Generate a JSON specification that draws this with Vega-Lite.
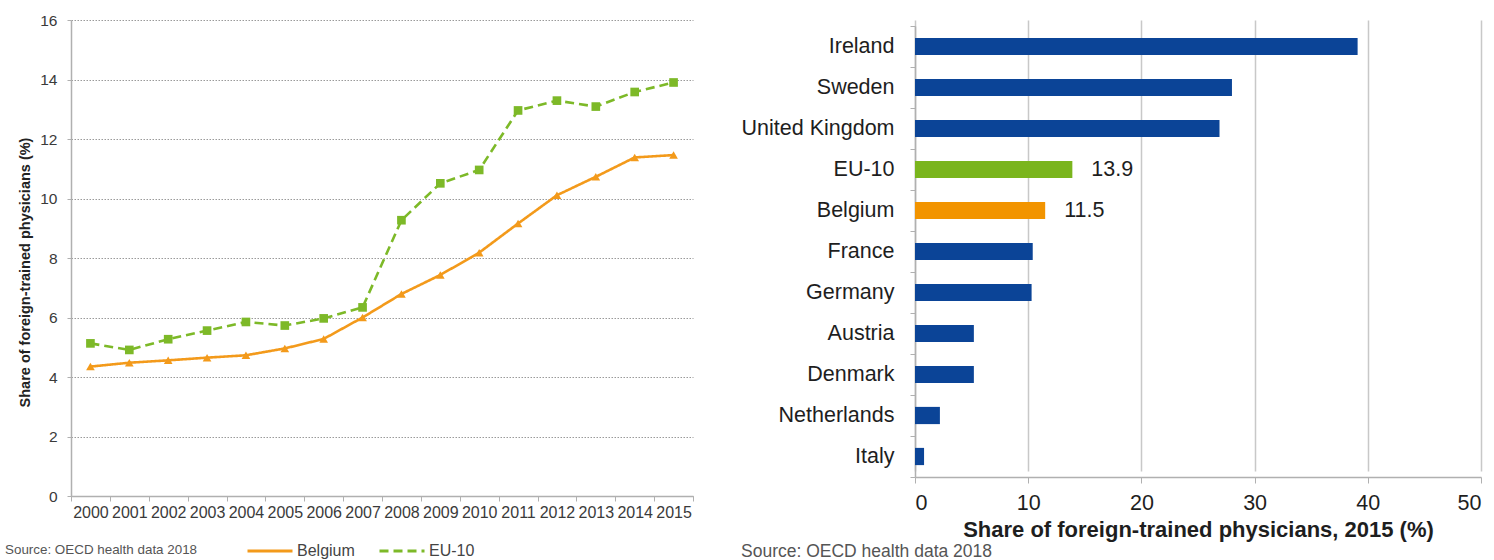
{
  "$schema": "https://vega.github.io/schema/vega-lite/v6.json",
  "background": "white",
  "padding": {"left": 5, "top": 9, "right": 2, "bottom": 0},
  "bounds": "flush",
  "spacing": 222,
  "config": {
    "view": {"stroke": null},
    "font": "Liberation Sans"
  },
  "datasets": {
    "trend": [
      {"year": "2000", "series": "Belgium", "share": 4.35},
      {"year": "2001", "series": "Belgium", "share": 4.48},
      {"year": "2002", "series": "Belgium", "share": 4.56},
      {"year": "2003", "series": "Belgium", "share": 4.65},
      {"year": "2004", "series": "Belgium", "share": 4.73},
      {"year": "2005", "series": "Belgium", "share": 4.96},
      {"year": "2006", "series": "Belgium", "share": 5.28},
      {"year": "2007", "series": "Belgium", "share": 6.0},
      {"year": "2008", "series": "Belgium", "share": 6.79},
      {"year": "2009", "series": "Belgium", "share": 7.43},
      {"year": "2010", "series": "Belgium", "share": 8.18},
      {"year": "2011", "series": "Belgium", "share": 9.16},
      {"year": "2012", "series": "Belgium", "share": 10.11},
      {"year": "2013", "series": "Belgium", "share": 10.73},
      {"year": "2014", "series": "Belgium", "share": 11.38},
      {"year": "2015", "series": "Belgium", "share": 11.46},
      {"year": "2000", "series": "EU-10", "share": 5.13},
      {"year": "2001", "series": "EU-10", "share": 4.91},
      {"year": "2002", "series": "EU-10", "share": 5.27},
      {"year": "2003", "series": "EU-10", "share": 5.56},
      {"year": "2004", "series": "EU-10", "share": 5.85},
      {"year": "2005", "series": "EU-10", "share": 5.73},
      {"year": "2006", "series": "EU-10", "share": 5.97},
      {"year": "2007", "series": "EU-10", "share": 6.34},
      {"year": "2008", "series": "EU-10", "share": 9.27},
      {"year": "2009", "series": "EU-10", "share": 10.51},
      {"year": "2010", "series": "EU-10", "share": 10.96},
      {"year": "2011", "series": "EU-10", "share": 12.96},
      {"year": "2012", "series": "EU-10", "share": 13.29},
      {"year": "2013", "series": "EU-10", "share": 13.09},
      {"year": "2014", "series": "EU-10", "share": 13.58},
      {"year": "2015", "series": "EU-10", "share": 13.9}
    ],
    "share2015": [
      {"country": "Ireland", "share": 39.1},
      {"country": "Sweden", "share": 28.0},
      {"country": "United Kingdom", "share": 26.9},
      {"country": "EU-10", "share": 13.9},
      {"country": "Belgium", "share": 11.5},
      {"country": "France", "share": 10.4},
      {"country": "Germany", "share": 10.3},
      {"country": "Austria", "share": 5.2},
      {"country": "Denmark", "share": 5.2},
      {"country": "Netherlands", "share": 2.2},
      {"country": "Italy", "share": 0.8}
    ]
  },
  "hconcat": [
    {
      "width": 622,
      "height": 476,
      "data": {"name": "trend"},
      "encoding": {
        "x": {
          "field": "year",
          "type": "ordinal",
          "bandPosition": 0.5,
          "scale": {"type": "band", "paddingInner": 0, "paddingOuter": 0},
          "axis": {
            "title": null,
            "labelAngle": 0,
            "tickBand": "extent",
            "labelFontSize": 16,
            "labelColor": "#3a3a3a",
            "labelPadding": 3,
            "tickSize": 5,
            "tickColor": "#b0b0b0",
            "domainColor": "#b0b0b0",
            "domainWidth": 1.5
          }
        },
        "y": {
          "field": "share",
          "type": "quantitative",
          "scale": {"domain": [0, 16], "nice": false},
          "axis": {
            "title": "Share of foreign-trained physicians (%)",
            "titleFontSize": 14.5,
            "titleFontWeight": "bold",
            "titleColor": "#222222",
            "titlePadding": 7,
            "titleY": 252,
            "values": [0, 2, 4, 6, 8, 10, 12, 14, 16],
            "labelFontSize": 15.5,
            "labelColor": "#3a3a3a",
            "labelPadding": 10,
            "tickSize": 4,
            "tickColor": "#b0b0b0",
            "domainColor": "#b0b0b0",
            "domainWidth": 1.5,
            "gridColor": "#9a9a9a",
            "gridDash": [1.5, 1.5],
            "gridWidth": 1
          }
        }
      },
      "layer": [
        {
          "mark": {"type": "line", "strokeWidth": 2.6},
          "encoding": {
            "color": {
              "field": "series",
              "type": "nominal",
              "scale": {"domain": ["Belgium", "EU-10"], "range": ["#F39A1B", "#7DB928"]},
              "legend": {
                "orient": "none",
                "legendX": -66,
                "legendY": 507,
                "direction": "horizontal",
                "title": "Source: OECD health data 2018",
                "titleOrient": "left",
                "titleAnchor": "middle",
                "titleLimit": 400,
                "titleFontSize": 13.4,
                "titleFontWeight": "normal",
                "titleColor": "#555555",
                "titlePadding": 48,
                "titleBaseline": "top",
                "symbolType": "stroke",
                "symbolSize": 2025,
                "symbolStrokeWidth": 3,
                "labelFontSize": 16,
                "labelColor": "#444444",
                "labelOffset": 3,
                "columnPadding": 18
              }
            },
            "strokeDash": {
              "field": "series",
              "type": "nominal",
              "scale": {"domain": ["Belgium", "EU-10"], "range": [[1, 0], [9, 5]]}
            }
          }
        },
        {
          "transform": [{"filter": {"field": "series", "equal": "Belgium"}}],
          "mark": {"type": "point", "filled": true, "opacity": 1, "shape": "triangle-up", "size": 75, "color": "#F39A1B"}
        },
        {
          "transform": [{"filter": {"field": "series", "equal": "EU-10"}}],
          "mark": {"type": "point", "filled": true, "opacity": 1, "shape": "square", "size": 75, "color": "#7DB928"}
        }
      ]
    },
    {
      "width": 566,
      "height": 457,
      "data": {"name": "share2015"},
      "title": {
        "text": "Source: OECD health data 2018",
        "orient": "bottom",
        "anchor": "start",
        "frame": "bounds",
        "fontSize": 17.5,
        "fontWeight": "normal",
        "color": "#555555",
        "offset": 2
      },
      "encoding": {
        "y": {
          "field": "country",
          "type": "nominal",
          "sort": null,
          "scale": {"type": "band", "paddingInner": 0, "paddingOuter": 0, "range": [6, 457]},
          "axis": {
            "title": null,
            "tickBand": "extent",
            "labelFontSize": 21.5,
            "labelColor": "#1e1e1e",
            "labelPadding": 16,
            "tickSize": 5,
            "tickColor": "#b0b0b0",
            "domainColor": "#b0b0b0",
            "domainWidth": 1.5
          }
        },
        "x": {
          "field": "share",
          "type": "quantitative",
          "scale": {"domain": [0, 50], "nice": false},
          "axis": {
            "title": "Share of foreign-trained physicians, 2015 (%)",
            "titleFontSize": 22,
            "titleFontWeight": "bold",
            "titleColor": "#1e1e1e",
            "titlePadding": 6,
            "values": [0, 10, 20, 30, 40, 50],
            "labelFontSize": 21.5,
            "labelColor": "#1e1e1e",
            "labelPadding": 9,
            "tickSize": 6,
            "tickColor": "#b0b0b0",
            "domainColor": "#b0b0b0",
            "domainWidth": 1.5,
            "gridColor": "#c8c8c8",
            "gridWidth": 1.5
          }
        }
      },
      "layer": [
        {
          "mark": {"type": "bar", "height": {"band": 0.42}},
          "encoding": {
            "color": {
              "condition": [
                {"test": "datum.country === 'EU-10'", "value": "#7AB51D"},
                {"test": "datum.country === 'Belgium'", "value": "#F29400"}
              ],
              "value": "#0B4497"
            }
          }
        },
        {
          "transform": [{"filter": {"field": "country", "oneOf": ["EU-10", "Belgium"]}}],
          "mark": {"type": "text", "align": "left", "baseline": "middle", "dx": 19, "fontSize": 21.5, "color": "#1e1e1e"},
          "encoding": {
            "text": {"field": "share", "type": "quantitative", "format": ".1f"}
          }
        }
      ]
    }
  ]
}
